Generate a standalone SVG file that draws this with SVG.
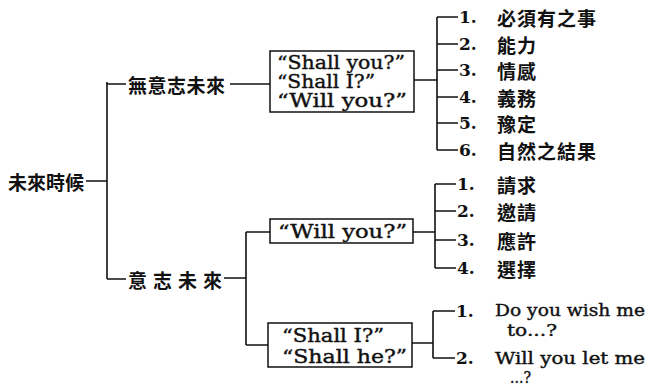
<svg xmlns="http://www.w3.org/2000/svg" width="649" height="389" viewBox="0 0 649 389">
<style>
.cj{font-family:"Noto Sans CJK TC","Noto Sans CJK SC",sans-serif;font-size:19px;font-weight:bold;fill:#111;dominant-baseline:central}
.en{font-family:"DejaVu Serif","Liberation Serif",serif;font-size:18.5px;fill:#111;stroke:#111;stroke-width:0.4;dominant-baseline:central}
.sm{font-size:17px}
.num{font-family:"DejaVu Serif","Liberation Serif",serif;font-size:17px;font-weight:bold;fill:#111;dominant-baseline:central}
.ln{stroke:#111;stroke-width:1.6;fill:none}
.box{stroke:#111;stroke-width:1.5;fill:none}
</style>
<rect width="649" height="389" fill="#fff"/>
<g id="connectors" class="ln">
  <path d="M86 181H107M107 82V279M107 84H126M107 279H126"/>
  <path d="M230 84H270"/>
  <path d="M414 80H437M437 17V150M437 17H458M437 44H458M437 70H458M437 97H458M437 123H458M437 150H458"/>
  <path d="M224 278H246M246 232V345M246 232H270M246 345H268"/>
  <path d="M413 232H435M435 184V268M435 184H456M435 211H456M435 240H456M435 268H456"/>
  <path d="M412 343H433M433 311V358M433 311H455M433 358H455"/>
</g>
<g id="root"><text class="cj" x="8" y="181">未來時候</text></g>
<g id="nonvolitional"><text class="cj" x="128" y="84" letter-spacing="0.5">無意志未來</text></g>
<g id="volitional"><text class="cj" x="128" y="279" letter-spacing="6">意志未來</text></g>
<g id="box1">
  <rect class="box" x="270" y="51" width="144" height="61"/>
  <text class="en" x="277" y="62" textLength="128" lengthAdjust="spacingAndGlyphs">“Shall you?”</text>
  <text class="en" x="277" y="81" textLength="98" lengthAdjust="spacingAndGlyphs">“Shall I?”</text>
  <text class="en" x="277" y="100" textLength="130" lengthAdjust="spacingAndGlyphs">“Will you?”</text>
</g>
<g id="box2">
  <rect class="box" x="270" y="219" width="143" height="24"/>
  <text class="en" x="278" y="231" textLength="129" lengthAdjust="spacingAndGlyphs">“Will you?”</text>
</g>
<g id="box3">
  <rect class="box" x="268" y="323" width="144" height="44"/>
  <text class="en" x="282" y="335" textLength="102" lengthAdjust="spacingAndGlyphs">“Shall I?”</text>
  <text class="en" x="282" y="356" textLength="125" lengthAdjust="spacingAndGlyphs">“Shall he?”</text>
</g>
<g id="list1">
  <text class="num" x="459" y="17">1.</text><text class="cj" x="497" y="17" letter-spacing="1">必須有之事</text>
  <text class="num" x="459" y="44">2.</text><text class="cj" x="497" y="44" letter-spacing="1">能力</text>
  <text class="num" x="459" y="70">3.</text><text class="cj" x="497" y="70" letter-spacing="1">情感</text>
  <text class="num" x="459" y="97">4.</text><text class="cj" x="497" y="97" letter-spacing="1">義務</text>
  <text class="num" x="459" y="123">5.</text><text class="cj" x="497" y="123" letter-spacing="1">豫定</text>
  <text class="num" x="459" y="150">6.</text><text class="cj" x="497" y="150" letter-spacing="1">自然之結果</text>
</g>
<g id="list2">
  <text class="num" x="457" y="184">1.</text><text class="cj" x="497" y="184" letter-spacing="1">請求</text>
  <text class="num" x="457" y="211">2.</text><text class="cj" x="497" y="211" letter-spacing="1">邀請</text>
  <text class="num" x="457" y="240">3.</text><text class="cj" x="497" y="240" letter-spacing="1">應許</text>
  <text class="num" x="457" y="268">4.</text><text class="cj" x="497" y="268" letter-spacing="1">選擇</text>
</g>
<g id="list3">
  <text class="num" x="456" y="311">1.</text>
  <text class="en sm" x="495" y="310" textLength="150" lengthAdjust="spacingAndGlyphs">Do you wish me</text>
  <text class="en sm" x="507" y="330" textLength="50" lengthAdjust="spacingAndGlyphs">to...?</text>
  <text class="num" x="456" y="358">2.</text>
  <text class="en sm" x="495" y="358" textLength="150" lengthAdjust="spacingAndGlyphs">Will you let me</text>
  <text class="en sm" x="510" y="377" textLength="21" lengthAdjust="spacingAndGlyphs">...?</text>
</g>
</svg>
